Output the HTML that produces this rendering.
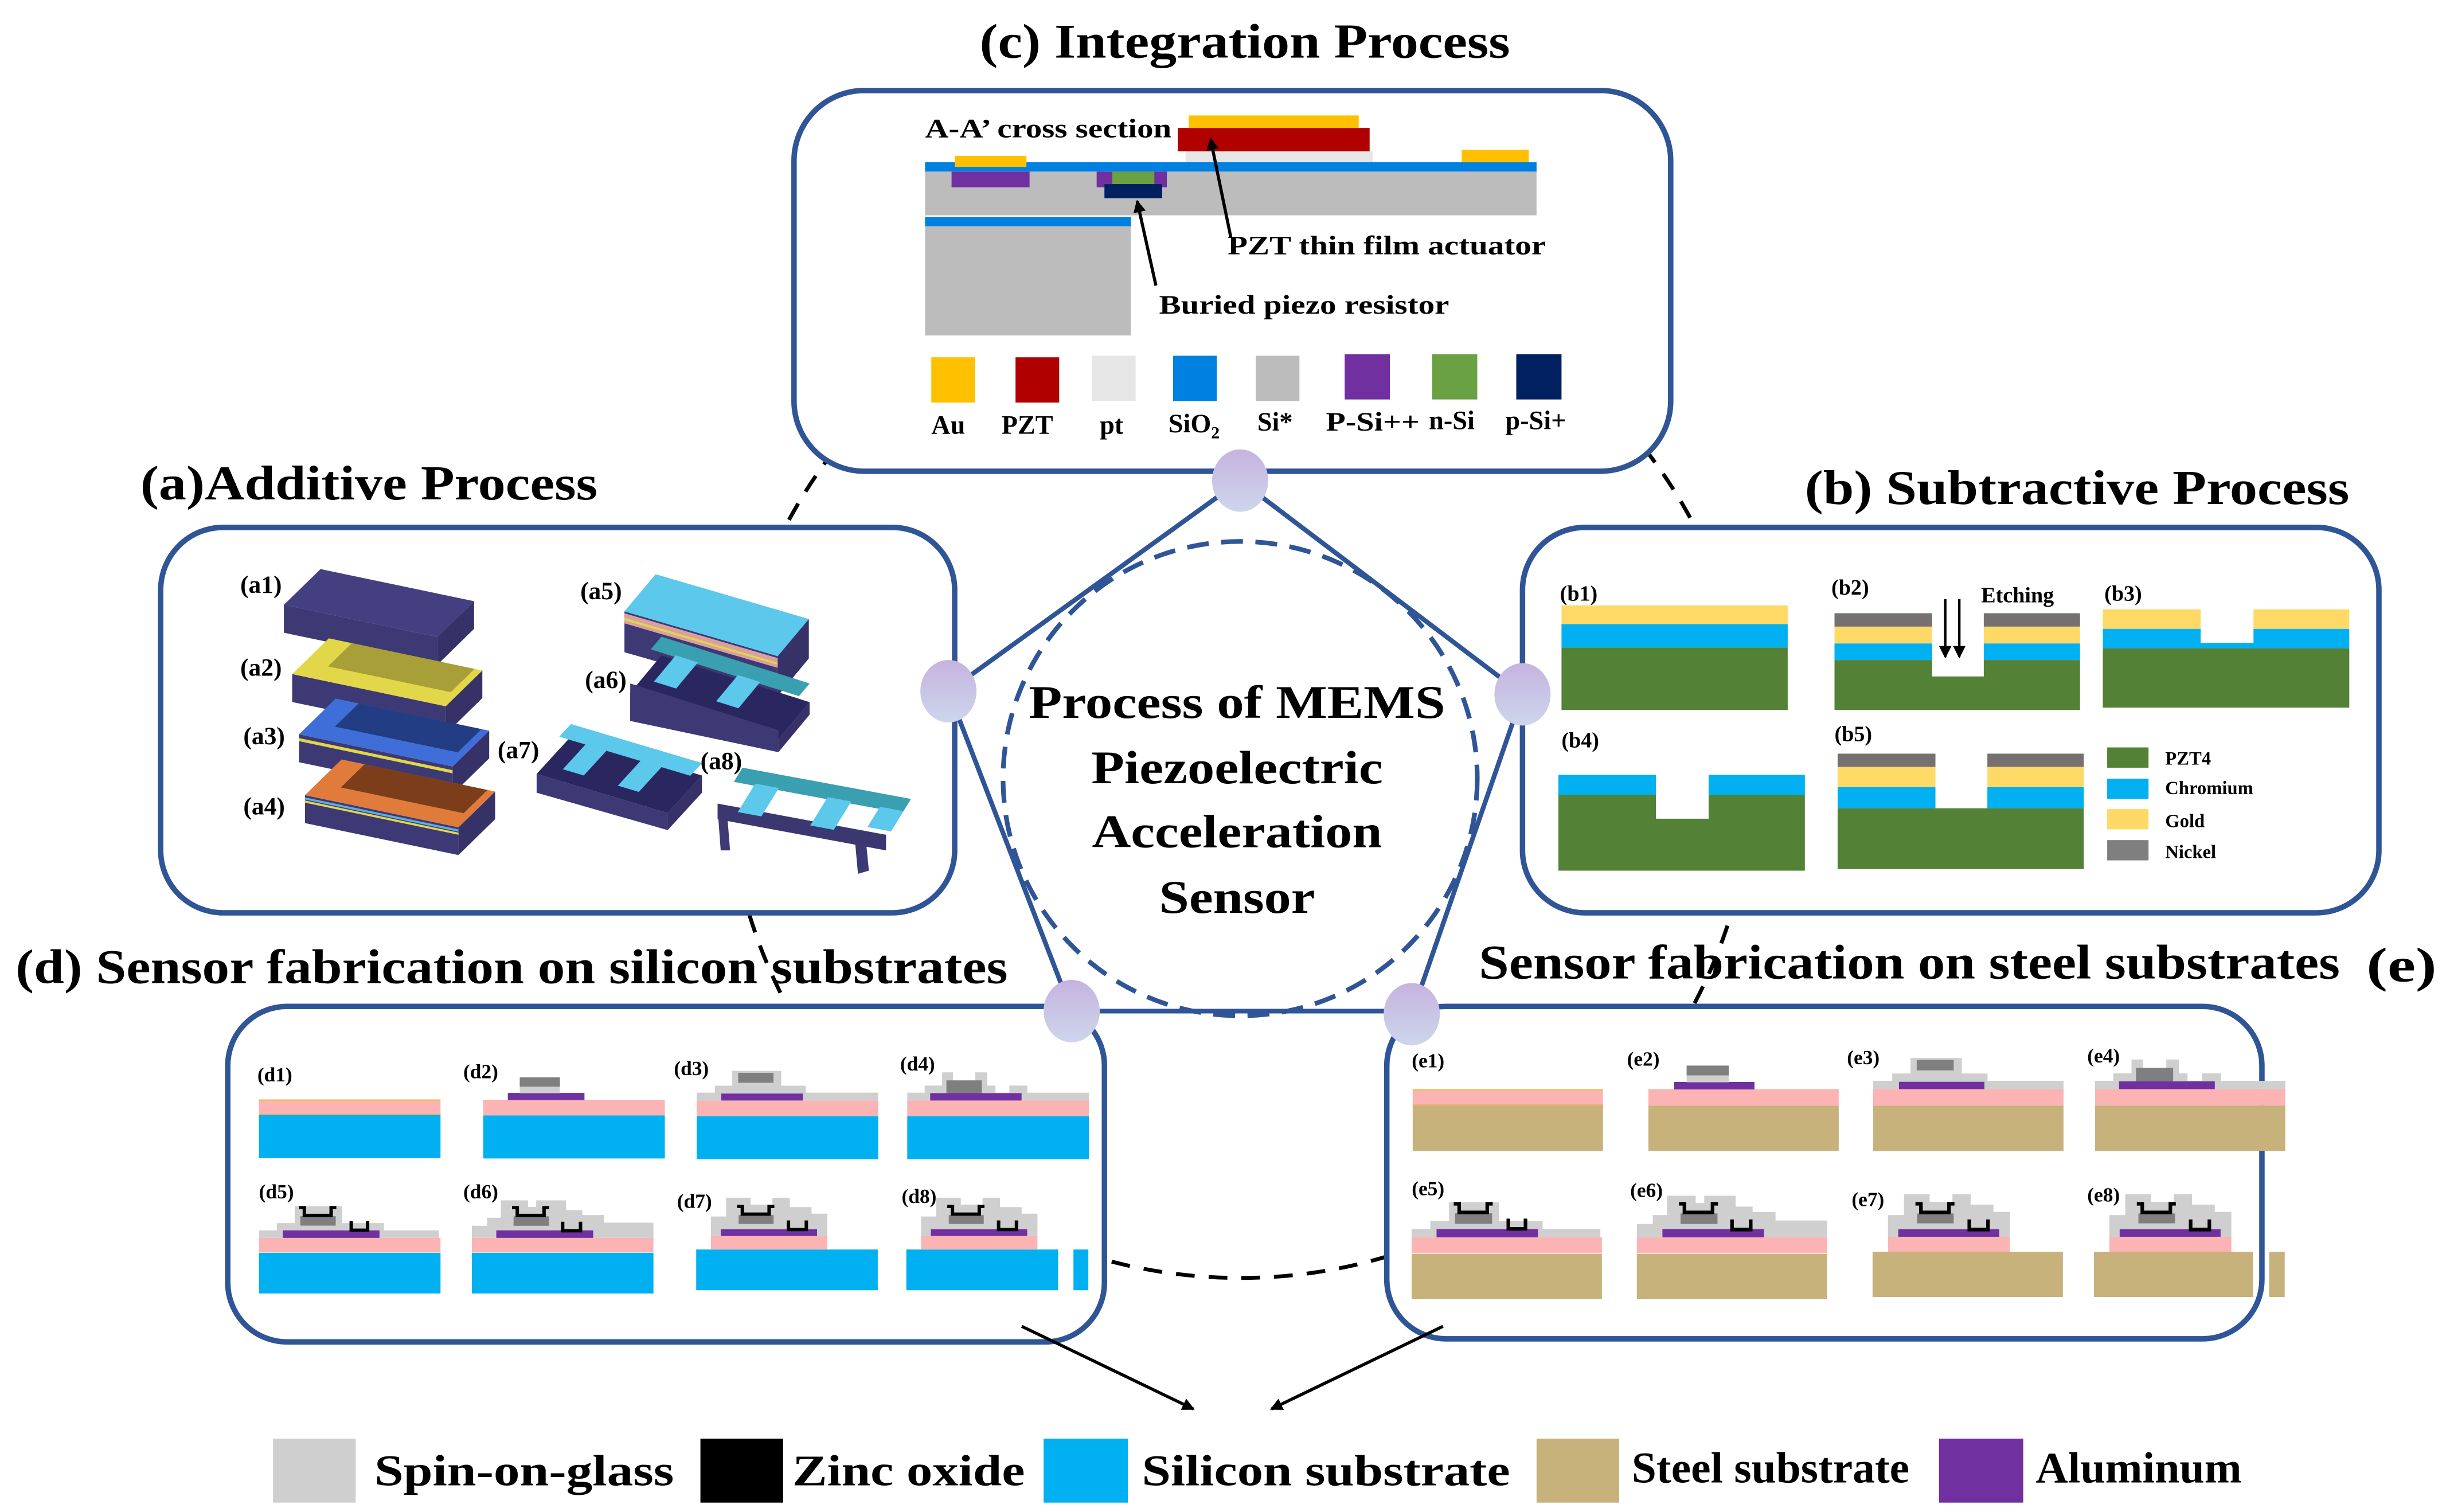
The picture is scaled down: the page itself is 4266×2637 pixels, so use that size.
<!DOCTYPE html>
<html><head><meta charset="utf-8"><style>
html,body{margin:0;padding:0;background:#fff;}
svg{display:block;}
text{font-family:"Liberation Serif",serif;font-weight:bold;fill:#000;}
</style></head><body>
<svg width="4266" height="2637" viewBox="0 0 1568 969" preserveAspectRatio="none" xmlns="http://www.w3.org/2000/svg">
<defs>
<linearGradient id="lav" x1="0" y1="0" x2="0" y2="1"><stop offset="0" stop-color="#c6b3df"/><stop offset="1" stop-color="#cdd6ec"/></linearGradient>
<marker id="ah" markerWidth="8" markerHeight="8" refX="7" refY="4" orient="auto" markerUnits="userSpaceOnUse"><path d="M0,0 L8,4 L0,8 z" fill="#000"/></marker>
<g id="s1"><rect x="0" y="0" width="122" height="10.6" fill="#fbb3b3"/><rect x="0" y="0" width="122" height="1" fill="#f5b85a"/><rect x="0" y="9.8" width="122" height="1" fill="#e9b060"/><rect x="0" y="10.6" width="122" height="29" fill="currentColor"/></g>
<g id="s2"><rect x="0" y="0" width="122" height="10.6" fill="#fbb3b3"/><rect x="0" y="10.6" width="122" height="29" fill="currentColor"/><rect x="16.5" y="-4.6" width="51.5" height="4.8" fill="#7030a0"/><rect x="24.5" y="-8.8" width="27" height="4.4" fill="#cfcfcf"/><rect x="24.5" y="-15.1" width="27" height="6.3" fill="#7f7f7f"/></g>
<g id="s3"><rect x="0" y="0" width="122" height="10.6" fill="#fbb3b3"/><rect x="0" y="10.6" width="122" height="29" fill="currentColor"/><polygon points="0,0 0,-5.3 12.2,-5.3 12.2,-10 23.9,-10 23.9,-20 56.8,-20 56.8,-10 73.3,-10 73.3,-5.3 122,-5.3 122,0" fill="#d0cfd0"/><rect x="27.9" y="-18.7" width="23.7" height="6.7" fill="#7f7f7f"/><rect x="16.5" y="-4.7" width="54.8" height="4.7" fill="#7030a0"/></g>
<g id="s4"><rect x="0" y="0" width="122" height="10.6" fill="#fbb3b3"/><rect x="0" y="10.6" width="122" height="29" fill="currentColor"/><rect x="0" y="-5.3" width="122" height="5.3" fill="#d0cfd0"/><rect x="11.7" y="-10.1" width="47.6" height="5" fill="#d0cfd0"/><rect x="23.4" y="-19" width="7.3" height="9" fill="#d0cfd0"/><rect x="45.7" y="-19" width="8.1" height="9" fill="#d0cfd0"/><rect x="68.6" y="-10.1" width="12.1" height="5" fill="#d0cfd0"/><rect x="26.3" y="-13.6" width="23.8" height="8.6" fill="#7f7f7f"/><rect x="15.4" y="-5" width="61.4" height="5" fill="#7030a0"/></g>
<g id="s5"><rect x="0" y="0" width="122" height="10.3" fill="#fbb3b3"/><rect x="0" y="10.6" width="122" height="29" fill="currentColor"/><polygon points="0,0 0,-5.3 12,-5.3 12,-10.5 24,-10.5 24,-22.5 56,-22.5 56,-10.5 84,-10.5 84,-5.3 121,-5.3 121,0" fill="#d0cfd0"/><rect x="27.8" y="-15.4" width="23.8" height="6.7" fill="#7f7f7f"/><rect x="16" y="-5.3" width="65" height="5.3" fill="#7030a0"/><path d="M27,-21.5 h3.5 v5.5 h18 v-5.5 h3.5 M62,-12 v6.5 h11 v-6.5" stroke="#000" stroke-width="2.3" fill="none"/></g>
<g id="s6"><rect x="0" y="0" width="122" height="10.3" fill="#fbb3b3"/><rect x="0" y="10.6" width="122" height="29" fill="currentColor"/><polygon points="0,0 0,-8.6 10.2,-8.6 10.2,-14.3 19.4,-14.3 19.4,-26.7 37.7,-26.7 37.7,-22 43.2,-22 43.2,-26.7 63.3,-26.7 63.3,-19.7 74.2,-19.7 74.2,-16.2 88.9,-16.2 88.9,-10.8 122,-10.8 122,0" fill="#d0cfd0"/><rect x="28" y="-15.3" width="23.7" height="6.7" fill="#7f7f7f"/><rect x="16.4" y="-5.3" width="65.1" height="5.3" fill="#7030a0"/><path d="M27,-21.5 h3.5 v5.5 h18 v-5.5 h3.5 M61,-11.5 v6.5 h12 v-6.5" stroke="#000" stroke-width="2.3" fill="none"/></g>
<g id="s7top"><rect x="9.9" y="-0.4" width="78.2" height="9.6" fill="#fbb3b3"/><polygon points="9.9,-0.4 9.9,-14.3 20.1,-14.3 20.1,-27.7 36.6,-27.7 36.6,-22.8 51.2,-22.8 51.2,-27.7 62.9,-27.7 62.9,-21 77.5,-21 77.5,-16.3 88.1,-16.3 88.1,-0.4" fill="#d0cfd0"/><rect x="28.5" y="-15.3" width="23.5" height="6.3" fill="#7f7f7f"/><rect x="16.5" y="-5.2" width="64.7" height="4.8" fill="#7030a0"/><path d="M27.5,-21.5 h3.5 v5.5 h18 v-5.5 h3.5 M62,-11.5 v6.5 h12 v-6.5" stroke="#000" stroke-width="2.3" fill="none"/></g>
<g id="s7"><rect x="0" y="9.2" width="122" height="29" fill="currentColor"/><use href="#s7top"/></g>
<g id="s8"><rect x="0" y="9.2" width="102" height="29" fill="currentColor"/><rect x="112.3" y="9.2" width="10" height="29" fill="currentColor"/><use href="#s7top"/></g>
</defs>

<circle cx="795" cy="490" r="329" fill="none" stroke="#000" stroke-width="2.5" stroke-dasharray="12 9"/>

<g fill="#fff" stroke="#2f5597" stroke-width="3.5">
<rect x="509" y="58" width="562" height="244" rx="45"/>
<rect x="103" y="338" width="509" height="247" rx="40"/>
<rect x="976" y="338" width="549" height="247" rx="40"/>
<rect x="146" y="645" width="562" height="215" rx="38"/>
<rect x="889" y="645" width="561" height="213" rx="38"/>
</g>

<g stroke="#2f5597" stroke-width="3" fill="none">
<line x1="795" y1="308" x2="608" y2="443"/>
<line x1="795" y1="308" x2="976" y2="445"/>
<line x1="608" y1="443" x2="687" y2="648"/>
<line x1="976" y1="445" x2="905" y2="650"/>
<line x1="687" y1="648" x2="905" y2="648"/>
</g>
<circle cx="795" cy="499" r="152" fill="none" stroke="#2f5597" stroke-width="3" stroke-dasharray="14 8"/>
<g fill="url(#lav)">
<ellipse cx="795" cy="308" rx="18" ry="20"/>
<ellipse cx="608" cy="443" rx="18" ry="20"/>
<ellipse cx="976" cy="445" rx="18" ry="20"/>
<ellipse cx="687" cy="648" rx="18" ry="20"/>
<ellipse cx="905" cy="650" rx="18" ry="20"/>
</g>

<g font-size="30" text-anchor="middle">
<text x="793" y="460" textLength="267" lengthAdjust="spacingAndGlyphs">Process of MEMS</text>
<text x="793" y="502" textLength="187" lengthAdjust="spacingAndGlyphs">Piezoelectric</text>
<text x="793" y="543" textLength="186" lengthAdjust="spacingAndGlyphs">Acceleration</text>
<text x="793" y="585" textLength="100" lengthAdjust="spacingAndGlyphs">Sensor</text>
</g>

<g font-size="31">
<text x="628" y="37" textLength="340" lengthAdjust="spacingAndGlyphs">(c) Integration Process</text>
<text x="90" y="320" textLength="293" lengthAdjust="spacingAndGlyphs">(a)Additive Process</text>
<text x="1157" y="323" textLength="349" lengthAdjust="spacingAndGlyphs">(b) Subtractive Process</text>
<text x="10" y="630" textLength="636" lengthAdjust="spacingAndGlyphs">(d) Sensor fabrication on silicon substrates</text>
<text x="948" y="627" textLength="552" lengthAdjust="spacingAndGlyphs">Sensor fabrication on steel substrates</text>
<text x="1517" y="629" textLength="45" lengthAdjust="spacingAndGlyphs">(e)</text>
</g>

<!-- (c) content -->
<rect x="760" y="97" width="120" height="8" fill="#e6e6e6"/>
<rect x="593" y="104" width="392" height="6" fill="#0080e0"/>
<rect x="593" y="110" width="392" height="28" fill="#bcbcbc"/>
<rect x="593" y="139" width="132" height="6" fill="#0080e0"/>
<rect x="593" y="145" width="132" height="70" fill="#bcbcbc"/>
<rect x="612" y="100" width="46" height="7" fill="#ffc000"/>
<rect x="610" y="110" width="50" height="10" fill="#7030a0"/>
<rect x="703" y="110" width="45" height="10" fill="#7030a0"/>
<rect x="713" y="110" width="27" height="8" fill="#6aa142"/>
<rect x="708" y="118" width="37" height="9" fill="#002060"/>
<rect x="755" y="82" width="123" height="15" fill="#b00000"/>
<rect x="762" y="74" width="109" height="8" fill="#ffc000"/>
<rect x="937" y="96" width="43" height="8" fill="#ffc000"/>
<g stroke="#000" stroke-width="2" marker-end="url(#ah)">
<line x1="789" y1="152" x2="776" y2="89"/>
<line x1="741" y1="183" x2="729" y2="129"/>
</g>
<g font-size="17">
<text x="593" y="88" textLength="158" lengthAdjust="spacingAndGlyphs">A-A’ cross section</text>
<text x="787" y="163" textLength="204" lengthAdjust="spacingAndGlyphs">PZT thin film actuator</text>
<text x="743" y="201" textLength="186" lengthAdjust="spacingAndGlyphs">Buried piezo resistor</text>
</g>
<rect x="597" y="229" width="28" height="29" fill="#ffc000"/>
<rect x="651" y="229" width="28" height="29" fill="#b00000"/>
<rect x="700" y="228" width="28" height="29" fill="#e6e6e6"/>
<rect x="752" y="228" width="28" height="29" fill="#0080e0"/>
<rect x="805" y="228" width="28" height="29" fill="#bcbcbc"/>
<rect x="862" y="227" width="29" height="29" fill="#7030a0"/>
<rect x="918" y="227" width="29" height="29" fill="#6aa142"/>
<rect x="972" y="227" width="29" height="29" fill="#002060"/>
<g font-size="17">
<text x="597" y="278">Au</text>
<text x="642" y="278">PZT</text>
<text x="705" y="278">pt</text>
<text x="749" y="277">SiO<tspan font-size="11" dy="4">2</tspan></text>
<text x="806" y="276">Si*</text>
<text x="850" y="276" textLength="60" lengthAdjust="spacingAndGlyphs">P-Si++</text>
<text x="916" y="275">n-Si</text>
<text x="965" y="275">p-Si+</text>
</g>

<!-- (a) content -->
<g>
 <polygon points="182,387.6 280.4,408.2 280.4,426 182,405.5" fill="#3d3975"/>
 <polygon points="280.4,408.2 303.9,385.3 303.9,403 280.4,426" fill="#363268"/>
 <rect x="0" y="0" width="1" height="1" fill="#443f80" transform="matrix(98.4,20.6,23.5,-22.9,182,387.6)"/>
</g>
<g transform="translate(5.3,44.4)">
 <polygon points="182,387.6 280.4,408.2 280.4,426 182,405.5" fill="#3d3975"/>
 <polygon points="280.4,408.2 303.9,385.3 303.9,403 280.4,426" fill="#363268"/>
 <g transform="matrix(98.4,20.6,23.5,-22.9,182,387.6)"><rect width="1" height="1" fill="#e2d748"/><rect x="0.15" y="0.35" width="0.8" height="0.65" fill="#a99f38"/></g>
</g>
<g transform="translate(9.7,83)">
 <polygon points="182,387.6 280.4,408.2 280.4,426 182,405.5" fill="#3d3975"/>
 <polygon points="280.4,408.2 303.9,385.3 303.9,403 280.4,426" fill="#363268"/>
 <polygon points="182,390 280.4,410.6 280.4,412.6 182,392" fill="#e2d748"/>
 <g transform="matrix(98.4,20.6,23.5,-22.9,182,387.6)"><rect width="1" height="1" fill="#3f6ed8"/><rect x="0.15" y="0.35" width="0.8" height="0.65" fill="#233d84"/></g>
</g>
<g transform="translate(13.5,122)">
 <polygon points="182,387.6 280.4,408.2 280.4,426 182,405.5" fill="#3d3975"/>
 <polygon points="280.4,408.2 303.9,385.3 303.9,403 280.4,426" fill="#363268"/>
 <polygon points="182,389 280.4,409.6 280.4,411 182,390.4" fill="#5cb0e0"/>
 <polygon points="182,391 280.4,411.6 280.4,413 182,392.4" fill="#e2d748"/>
 <g transform="matrix(98.4,20.6,23.5,-22.9,182,387.6)"><rect width="1" height="1" fill="#e07b3c"/><rect x="0.15" y="0.35" width="0.8" height="0.65" fill="#7c3e1a"/></g>
</g>
<!-- a5 -->
<polygon points="400.3,391.8 498.5,420.5 498.5,446 400.3,418" fill="#3d3975"/>
<polygon points="498.5,420.5 518.5,396.7 518.5,422 498.5,446" fill="#363268"/>
<polygon points="400.3,393 498.5,421.7 498.5,428 400.3,399.5" fill="#d9a0a0"/>
<polygon points="400.3,396 498.5,424.7 498.5,426 400.3,397.5" fill="#e2d748"/>
<rect width="1" height="1" fill="#5bc8ec" transform="matrix(98.2,28.7,20,-23.8,400.3,391.8)"/>
<!-- a6 -->
<polygon points="404,444 499,474 499,482 404,462" fill="#3d3975"/>
<polygon points="404,444 404,462 499,482 499,474" fill="#3d3975"/>
<polygon points="499,474 519,450 519,458 499,482" fill="#363268"/>
<rect width="1" height="1" fill="#2a2760" transform="matrix(95,30,20,-24,404,444)"/>
<polygon points="404,438 404,444 499,474 499,468" fill="#3d3975"/>
<g transform="matrix(95,30,20,-24,404,432)">
 <rect x="0" y="0.66" width="1" height="0.34" fill="#3a9fb0"/>
 <rect x="0.16" y="0" width="0.15" height="0.7" fill="#5bc8ec"/>
 <rect x="0.58" y="0" width="0.15" height="0.7" fill="#5bc8ec"/>
</g>
<!-- a7 -->
<polygon points="344,496 428,521 428,532 344,508" fill="#3d3975"/>
<polygon points="428,521 450,497 450,508 428,532" fill="#363268"/>
<rect width="1" height="1" fill="#2a2760" transform="matrix(84,25,22,-24,344,496)"/>
<g transform="matrix(84,25,22,-24,344,488)">
 <rect x="0" y="0.66" width="1" height="0.34" fill="#5bc8ec"/>
 <rect x="0.2" y="0" width="0.16" height="0.7" fill="#5bc8ec"/>
 <rect x="0.62" y="0" width="0.16" height="0.7" fill="#5bc8ec"/>
</g>
<!-- a8 -->
<polygon points="460,518 462,545 468,545 466,520" fill="#3d3975"/>
<polygon points="548,538 550,560 557,558 555,538" fill="#3d3975"/>
<polygon points="460,515 568,535 568,545 460,525" fill="#3b3770"/>
<g transform="matrix(108,20,16,-26,460,518)">
 <rect x="0" y="0.65" width="1" height="0.35" fill="#3a9fb0"/>
 <rect x="0.12" y="0" width="0.14" height="0.7" fill="#5bc8ec"/>
 <rect x="0.55" y="0" width="0.14" height="0.7" fill="#5bc8ec"/>
 <rect x="0.86" y="0.2" width="0.14" height="0.5" fill="#5bc8ec"/>
</g>
<g font-size="16">
<text x="154" y="380">(a1)</text>
<text x="154" y="433">(a2)</text>
<text x="156" y="477">(a3)</text>
<text x="156" y="522">(a4)</text>
<text x="372" y="384">(a5)</text>
<text x="375" y="441">(a6)</text>
<text x="319" y="486">(a7)</text>
<text x="449" y="493">(a8)</text>
</g>

<!-- (b) content -->
<g>
<rect x="1001" y="388" width="145" height="12" fill="#fed966"/><rect x="1001" y="400" width="145" height="15" fill="#00b0f0"/><rect x="1001" y="415" width="145" height="40" fill="#538135"/>
<rect x="1176" y="393" width="62.6" height="8.6" fill="#767171"/><rect x="1271.7" y="393" width="61.7" height="8.6" fill="#767171"/>
<rect x="1176" y="401.6" width="62.6" height="10.8" fill="#fed966"/><rect x="1271.7" y="401.6" width="61.7" height="10.8" fill="#fed966"/>
<rect x="1176" y="412.4" width="62.6" height="10.6" fill="#00b0f0"/><rect x="1271.7" y="412.4" width="61.7" height="10.6" fill="#00b0f0"/>
<path d="M1176,423 H1238.6 V433.5 H1271.7 V423 H1333.4 V455 H1176 Z" fill="#538135"/>
<rect x="1348" y="390.5" width="62.7" height="12.5" fill="#fed966"/><rect x="1444.6" y="390.5" width="61.4" height="12.5" fill="#fed966"/>
<path d="M1348,403 H1410.7 V412 H1444.6 V403 H1506 V415.5 H1348 Z" fill="#00b0f0"/>
<rect x="1348" y="415.5" width="158" height="38" fill="#538135"/>
<rect x="999" y="496.5" width="62.5" height="13" fill="#00b0f0"/><rect x="1095.3" y="496.5" width="61.7" height="13" fill="#00b0f0"/>
<path d="M999,509.5 H1061.5 V524.7 H1095.3 V509.5 H1157 V558 H999 Z" fill="#538135"/>
<rect x="1178" y="483" width="62.7" height="8.5" fill="#767171"/><rect x="1274" y="483" width="61.8" height="8.5" fill="#767171"/>
<rect x="1178" y="491.5" width="62.7" height="13" fill="#fed966"/><rect x="1274" y="491.5" width="61.8" height="13" fill="#fed966"/>
<rect x="1178" y="504.5" width="62.7" height="13.5" fill="#00b0f0"/><rect x="1274" y="504.5" width="61.8" height="13.5" fill="#00b0f0"/>
<rect x="1178" y="518" width="157.8" height="39" fill="#538135"/>
<rect x="1350.8" y="479" width="26.5" height="13" fill="#538135"/>
<rect x="1350.8" y="499" width="26.5" height="13" fill="#00b0f0"/>
<rect x="1350.8" y="518.5" width="26.5" height="13" fill="#fed966"/>
<rect x="1350.8" y="538.4" width="26.5" height="13" fill="#7f7f7f"/>
<g stroke="#000" stroke-width="1.6" marker-end="url(#ah)">
<line x1="1247" y1="384" x2="1247" y2="421"/>
<line x1="1256" y1="384" x2="1256" y2="421"/>
</g>
<g font-size="14">
<text x="1000" y="385">(b1)</text><text x="1174" y="381">(b2)</text><text x="1349" y="385">(b3)</text>
<text x="1001" y="479">(b4)</text><text x="1176" y="475">(b5)</text>
<text x="1270" y="386">Etching</text>
</g>
<g font-size="12">
<text x="1388" y="490">PZT4</text><text x="1388" y="509">Chromium</text><text x="1388" y="530">Gold</text><text x="1388" y="550">Nickel</text>
</g>
</g>

<!-- (d) content -->
<g color="#00b0f0">
<use href="#s1" transform="translate(166,704.6) scale(0.954,0.95)"/>
<use href="#s2" transform="translate(309.8,704.8) scale(0.954,0.95)"/>
<use href="#s3" transform="translate(446.6,705.3) scale(0.954,0.95)"/>
<use href="#s4" transform="translate(581.6,705.3) scale(0.954,0.95)"/>
<use href="#s5" transform="translate(166,793.3) scale(0.954,0.9)"/>
<use href="#s6" transform="translate(302.5,793.3) scale(0.954,0.9)"/>
<use href="#s7" transform="translate(446.3,792.5) scale(0.954,0.9)"/>
<use href="#s8" transform="translate(581,792.5) scale(0.954,0.9)"/>
</g>
<g font-size="13">
<text x="165" y="693">(d1)</text><text x="297" y="691">(d2)</text><text x="432" y="689">(d3)</text><text x="577" y="686">(d4)</text>
<text x="166" y="768">(d5)</text><text x="297" y="768">(d6)</text><text x="434" y="774">(d7)</text><text x="578" y="771">(d8)</text>
</g>

<!-- (e) content -->
<g color="#c8b27b">
<use href="#s1" transform="translate(905.6,698)"/>
<use href="#s2" transform="translate(1056.7,698)"/>
<use href="#s3" transform="translate(1200.8,698)"/>
<use href="#s4" transform="translate(1343,698)"/>
<use href="#s5" transform="translate(904.9,793)"/>
<use href="#s6" transform="translate(1049.3,793)"/>
<use href="#s7" transform="translate(1200.4,793)"/>
<use href="#s8" transform="translate(1342.3,793)"/>
</g>
<g font-size="13">
<text x="905" y="684">(e1)</text><text x="1043" y="683">(e2)</text><text x="1184" y="682">(e3)</text><text x="1338" y="681">(e4)</text>
<text x="905" y="766">(e5)</text><text x="1045" y="767">(e6)</text><text x="1187" y="773">(e7)</text><text x="1338" y="770">(e8)</text>
</g>

<g stroke="#000" stroke-width="2" marker-end="url(#ah)">
<line x1="655" y1="850" x2="765" y2="903"/>
<line x1="925" y1="850" x2="815" y2="903"/>
</g>

<rect x="175" y="922" width="53" height="41" fill="#d0cfd0"/>
<rect x="449" y="922" width="53" height="41" fill="#000"/>
<rect x="669" y="922" width="54" height="41" fill="#00b0f0"/>
<rect x="985" y="922" width="53" height="41" fill="#c8b27b"/>
<rect x="1243" y="922" width="54" height="41" fill="#7030a0"/>
<g font-size="28">
<text x="240" y="952" textLength="192" lengthAdjust="spacingAndGlyphs">Spin-on-glass</text>
<text x="508" y="952" textLength="149" lengthAdjust="spacingAndGlyphs">Zinc oxide</text>
<text x="732" y="952" textLength="236" lengthAdjust="spacingAndGlyphs">Silicon substrate</text>
<text x="1046" y="950" textLength="178" lengthAdjust="spacingAndGlyphs">Steel substrate</text>
<text x="1305" y="950" textLength="132" lengthAdjust="spacingAndGlyphs">Aluminum</text>
</g>
</svg>
</body></html>
